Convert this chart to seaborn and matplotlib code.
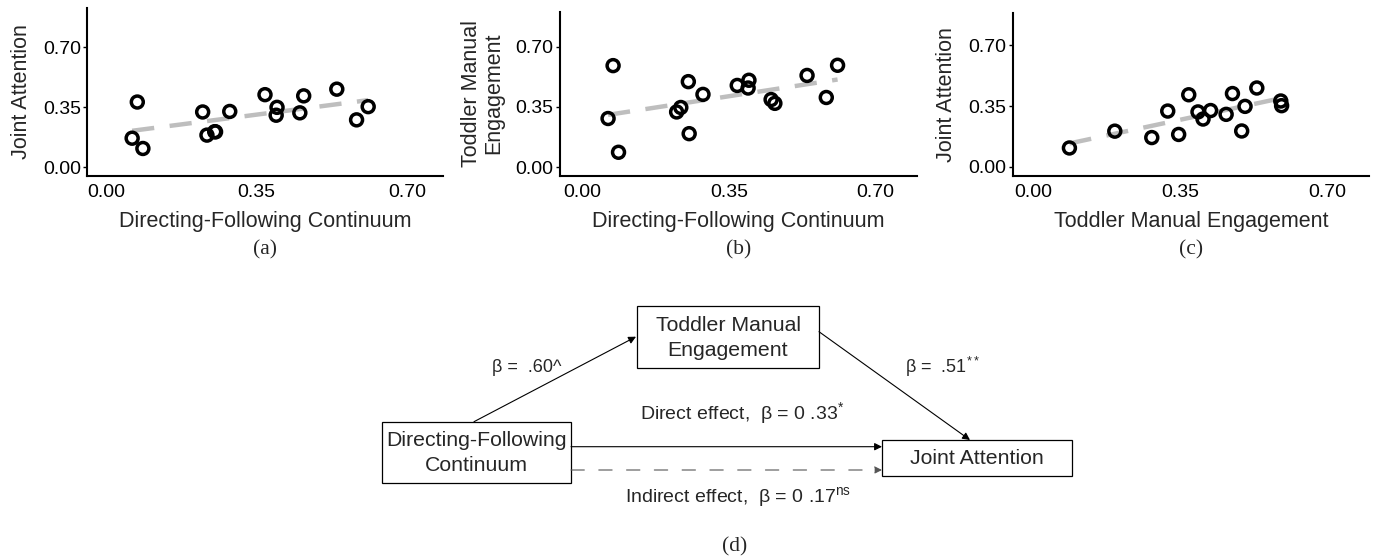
import matplotlib
matplotlib.use("Agg")
import matplotlib.pyplot as plt
import seaborn as sns
import pandas as pd
from matplotlib.patches import Rectangle

# scores of the 16 dyads
dfc = [0.061, 0.073, 0.086, 0.225, 0.235, 0.253, 0.255, 0.288,
       0.370, 0.398, 0.396, 0.451, 0.460, 0.537, 0.583, 0.610]
tme = [0.283, 0.590, 0.087, 0.321, 0.347, 0.497, 0.195, 0.423,
       0.475, 0.505, 0.460, 0.393, 0.371, 0.533, 0.405, 0.592]
ja = [0.168, 0.379, 0.108, 0.321, 0.186, 0.206, 0.205, 0.324,
      0.422, 0.348, 0.302, 0.316, 0.415, 0.454, 0.275, 0.352]

ticks = [0.00, 0.35, 0.70]
tick_labels = ["0.00", "0.35", "0.70"]

# mediation model coefficients
path_a = "β =  .60^"
path_b = "β =  .51$^{**}$"
direct = "Direct effect,  β = 0 .33$^{*}$"
indirect = "Indirect effect,  β = 0 .17$^{\\mathrm{ns}}$"

df = pd.DataFrame({"dfc": dfc, "tme": tme, "ja": ja})

sns.set_style("ticks")
plt.rcParams["font.family"] = ["Liberation Sans", "DejaVu Sans"]
plt.rcParams["mathtext.fontset"] = "custom"
plt.rcParams["mathtext.rm"] = "Liberation Sans"
plt.rcParams["mathtext.it"] = "Liberation Sans:italic"

W, H = 1380, 560
fig = plt.figure(figsize=(W / 100, H / 100), dpi=100)


def px_rect(l, r, t, b):
    return [l / W, 1 - b / H, (r - l) / W, (b - t) / H]


panels = [
    ("dfc", "ja", "Directing-Following Continuum", "Joint Attention", "(a)",
     (87, 443, 8, 176), (-0.044, 0.784), (-0.0525, 0.9275)),
    ("dfc", "tme", "Directing-Following Continuum", "Toddler Manual\nEngagement", "(b)",
     (560, 917, 11.7, 175.7), (-0.054, 0.80), (-0.049, 0.903)),
    ("tme", "ja", "Toddler Manual Engagement", "Joint Attention", "(c)",
     (1012.7, 1369, 13.3, 175.7), (-0.048, 0.80), (-0.052, 0.885)),
]

for xc, yc, xl, yl, cap, (l, r, t, b), xlim, ylim in panels:
    ax = fig.add_axes(px_rect(l, r, t, b))
    sns.regplot(data=df, x=xc, y=yc, scatter=False, ci=None, ax=ax,
                line_kws=dict(color="#bebebe", lw=3.2, dashes=(5, 3.5)))
    sns.scatterplot(data=df, x=xc, y=yc, ax=ax, s=74, marker="o",
                    facecolors="none", edgecolor="black", linewidth=2.5,
                    zorder=3)
    ax.set_xlim(*xlim)
    ax.set_ylim(*ylim)
    ax.set_xticks(ticks, tick_labels)
    ax.set_yticks(ticks, tick_labels)
    ax.tick_params(axis="y", length=3, width=1, labelsize=14, pad=1.5, colors="black")
    ax.tick_params(axis="x", length=0, labelsize=14, pad=6, colors="black")
    ax.set_xlabel(xl, fontsize=15.5, labelpad=7)
    ax.set_ylabel(yl, fontsize=15.5, labelpad=8, linespacing=1.1)
    sns.despine(ax=ax)
    for s in ("left", "bottom"):
        ax.spines[s].set_linewidth(1.5)
        ax.spines[s].set_color("black")
    fig.text((l + r) / 2 / W, 1 - 250 / H, cap, ha="center", va="center",
             fontsize=15.5, family="Liberation Serif")

# path diagram (d), drawn in pixel coordinates
dax = fig.add_axes([0, 0, 1, 1])
dax.set_xlim(0, W)
dax.set_ylim(H, 0)
dax.axis("off")

boxes = {
    "dfc": (381.7, 421.7, 571, 482.7, "Directing-Following\nContinuum"),
    "tme": (637, 306, 819, 367.5, "Toddler Manual\nEngagement"),
    "ja": (882.3, 440, 1072, 476, "Joint Attention"),
}
for x0, y0, x1, y1, label in boxes.values():
    dax.add_patch(Rectangle((x0, y0), x1 - x0, y1 - y0, fill=False,
                            ec="black", lw=0.9))
    dax.text((x0 + x1) / 2, (y0 + y1) / 2 + 1, label, ha="center", va="center",
             fontsize=15.3, linespacing=1.4)

arrow = dict(arrowstyle="-|>", color="black", lw=0.8, mutation_scale=11,
             shrinkA=0, shrinkB=0)
dax.annotate("", xy=(636, 336.7), xytext=(474, 421.7), arrowprops=arrow)
dax.annotate("", xy=(970, 440), xytext=(819, 331.7), arrowprops=arrow)
dax.annotate("", xy=(882, 446.7), xytext=(571, 446.7), arrowprops=arrow)
dax.annotate("", xy=(882, 470), xytext=(571, 470),
             arrowprops=dict(arrow, color="#555555", linestyle=(0, (12, 13))))

dax.text(527, 368, path_a, ha="center", va="center", fontsize=13)
dax.text(942, 367, path_b, ha="center", va="center", fontsize=13)
dax.text(742, 413, direct, ha="center", va="center", fontsize=14)
dax.text(738, 497, indirect, ha="center", va="center", fontsize=14)
dax.text(735, 547, "(d)", ha="center", va="center", fontsize=15.5,
         family="Liberation Serif")

fig.savefig("out.png", dpi=100)
